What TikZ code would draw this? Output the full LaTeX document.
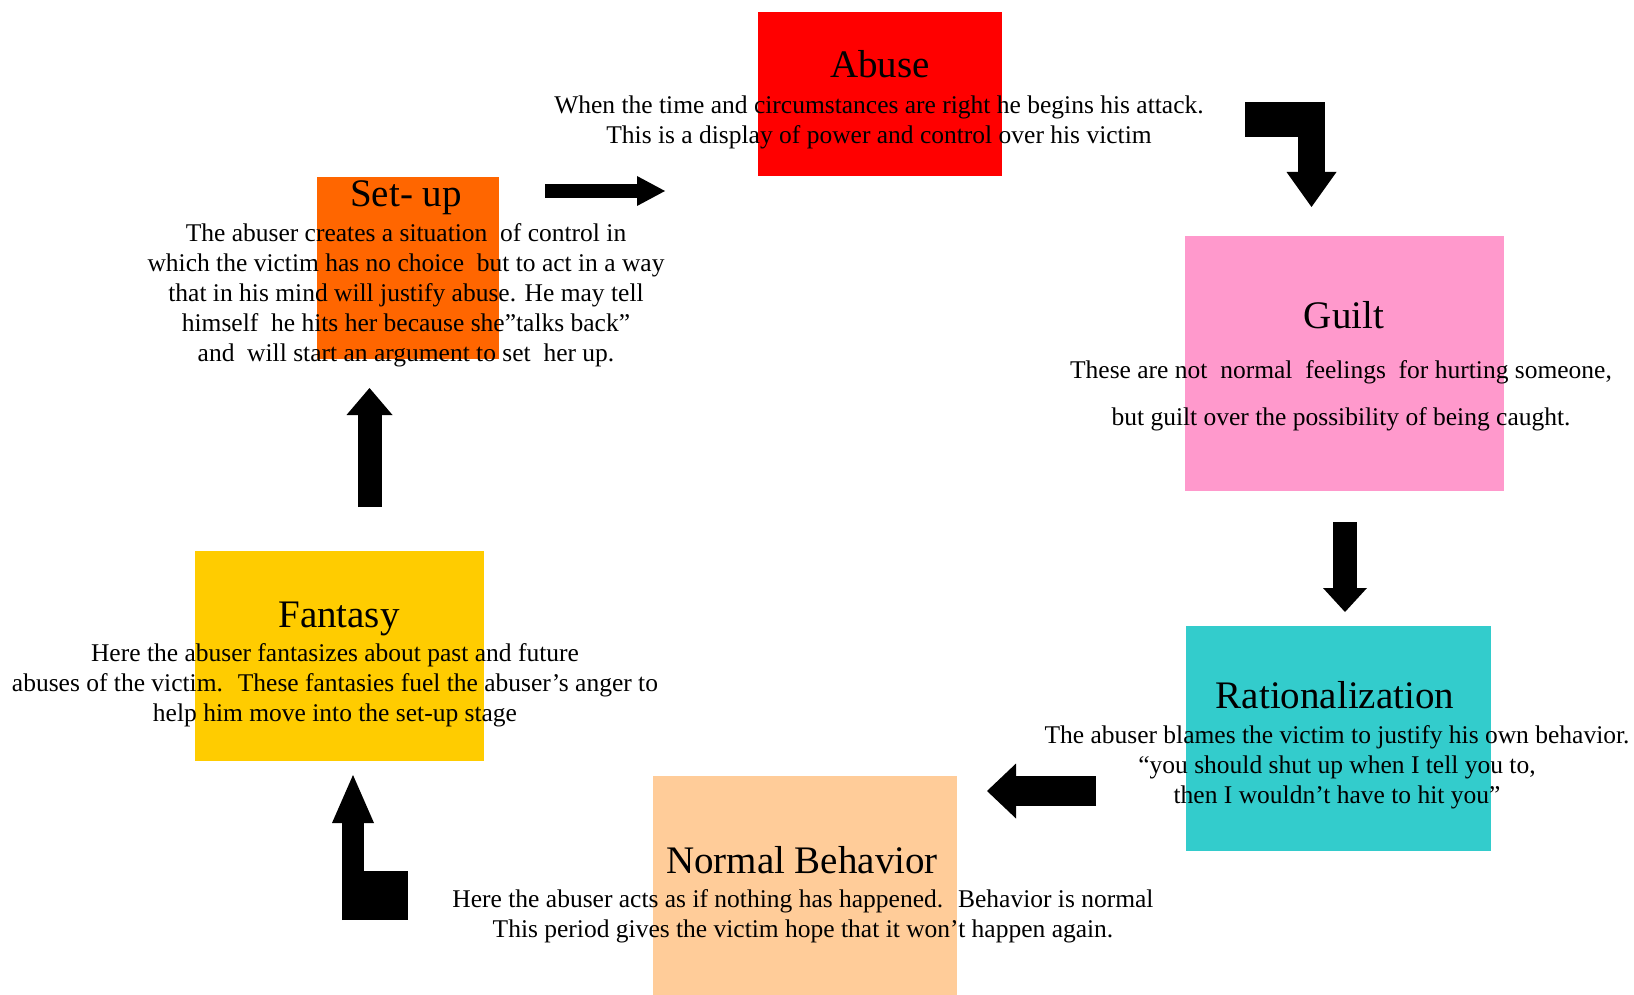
\documentclass[tikz,border=0pt]{standalone}
\usepackage{fontspec}
\setmainfont{Liberation Serif}
\usetikzlibrary{arrows.meta}
\definecolor{cAbuse}{HTML}{FF0000}
\definecolor{cSetup}{HTML}{FF6600}
\definecolor{cGuilt}{HTML}{FF99CC}
\definecolor{cRation}{HTML}{33CCCC}
\definecolor{cNormal}{HTML}{FFCC99}
\definecolor{cFantasy}{HTML}{FFCC00}
\begin{document}
\begin{tikzpicture}[x=1pt,y=-1pt,
  box/.style={anchor=north west, inner sep=0pt, draw=none},
  ttl/.style={anchor=base, inner sep=0pt, font=\fontsize{39}{44}\selectfont},
  body/.style={align=center, inner sep=0pt, font=\fontsize{25.5}{30}\selectfont},
  blockarrow/.style={draw=black, line cap=butt, line join=miter},
]
\useasboundingbox[fill=white] (0,0) rectangle (1634,995);

% boxes
\node[box, fill=cAbuse,   minimum width=244pt, minimum height=164pt] (abuse)   at (758,12)  {};
\node[box, fill=cSetup,   minimum width=182pt, minimum height=182pt] (setup)   at (317,177) {};
\node[box, fill=cGuilt,   minimum width=319pt, minimum height=255pt] (guilt)   at (1185,236) {};
\node[box, fill=cRation,  minimum width=305pt, minimum height=225pt] (ration)  at (1186,626) {};
\node[box, fill=cNormal,  minimum width=304pt, minimum height=219pt] (normal)  at (653,776) {};
\node[box, fill=cFantasy, minimum width=289pt, minimum height=210pt] (fantasy) at (195,551) {};

% titles
\node[ttl] (abuseT)   at (880,78)   {Abuse};
\node[ttl] (setupT)   at (406,207)  {Set- up};
\node[ttl] (guiltT)   at (1344,328) {Guilt};
\node[ttl] (rationT)  at (1335,708) {Rationalization};
\node[ttl] (normalT)  at (802,873)  {Normal Behavior};
\node[ttl] (fantasyT) at (339,627)  {Fantasy};

% body texts
\node[body] (abuseB) at (879,122) {When the time and circumstances are right he begins his attack.\\This is a display of power and control over his victim};
\node[body] (setupB) at (406,295) {The abuser creates a situation~ of control in\\which the victim has no choice~ but to act in a way\\that in his mind will justify abuse. He may tell\\himself~ he hits her because she”talks back”\\and~ will start an argument to set~ her up.};
\node[body, font=\fontsize{25.5}{47}\selectfont] (guiltB) at (1341,396) {These are not~ normal~ feelings~ for hurting someone,\\but guilt over the possibility of being caught.};
\node[body] (rationB) at (1337,767) {The abuser blames the victim to justify his own behavior.\\“you should shut up when I tell you to,\\then I wouldn’t have to hit you”};
\node[body] (normalB) at (803,916) {Here the abuser acts as if nothing has happened.~ Behavior is normal\\This period gives the victim hope that it won’t happen again.};
\node[body] (fantasyB) at (335,685) {Here the abuser fantasizes about past and future\\abuses of the victim.~ These fantasies fuel the abuser’s anger to\\help him move into the set-up stage};

% arrow end points
\coordinate (a1s) at (545,191);   \coordinate (a1e) at (665,191);
\coordinate (a2b) at (1245,119.5); \coordinate (a2c) at (1325,119.5);
\coordinate (a2s) at (1311.5,125); \coordinate (a2e) at (1311.5,207);
\coordinate (a3s) at (1345,522);  \coordinate (a3e) at (1345,612);
\coordinate (a4s) at (1096,791);  \coordinate (a4e) at (987,791);
\coordinate (a5b) at (342,895.5); \coordinate (a5c) at (408,895.5);
\coordinate (a5s) at (353,920);   \coordinate (a5e) at (353,775);
\coordinate (a6s) at (369.5,507); \coordinate (a6e) at (369.5,388);

% Set-up -> Abuse
\draw[blockarrow, line width=14pt, -{Triangle[width=30pt,length=28pt,line width=0pt]}] (a1s) -- (a1e);
% Abuse -> Guilt (bent)
\draw[blockarrow, line width=35pt] (a2b) -- (a2c);
\draw[blockarrow, line width=27pt, -{Triangle[width=50pt,length=35pt,line width=0pt]}] (a2s) -- (a2e);
% Guilt -> Rationalization
\draw[blockarrow, line width=24pt, -{Triangle[width=44pt,length=24pt,line width=0pt]}] (a3s) -- (a3e);
% Rationalization -> Normal Behavior
\draw[blockarrow, line width=30pt, -{Triangle[width=55pt,length=29pt,line width=0pt]}] (a4s) -- (a4e);
% Normal Behavior -> Fantasy (bent)
\draw[blockarrow, line width=49pt] (a5b) -- (a5c);
\draw[blockarrow, line width=22pt, -{Triangle[width=42pt,length=48pt,line width=0pt]}] (a5s) -- (a5e);
% Fantasy -> Set-up
\draw[blockarrow, line width=24pt, -{Triangle[width=46pt,length=27pt,line width=0pt]}] (a6s) -- (a6e);
\end{tikzpicture}
\end{document}
